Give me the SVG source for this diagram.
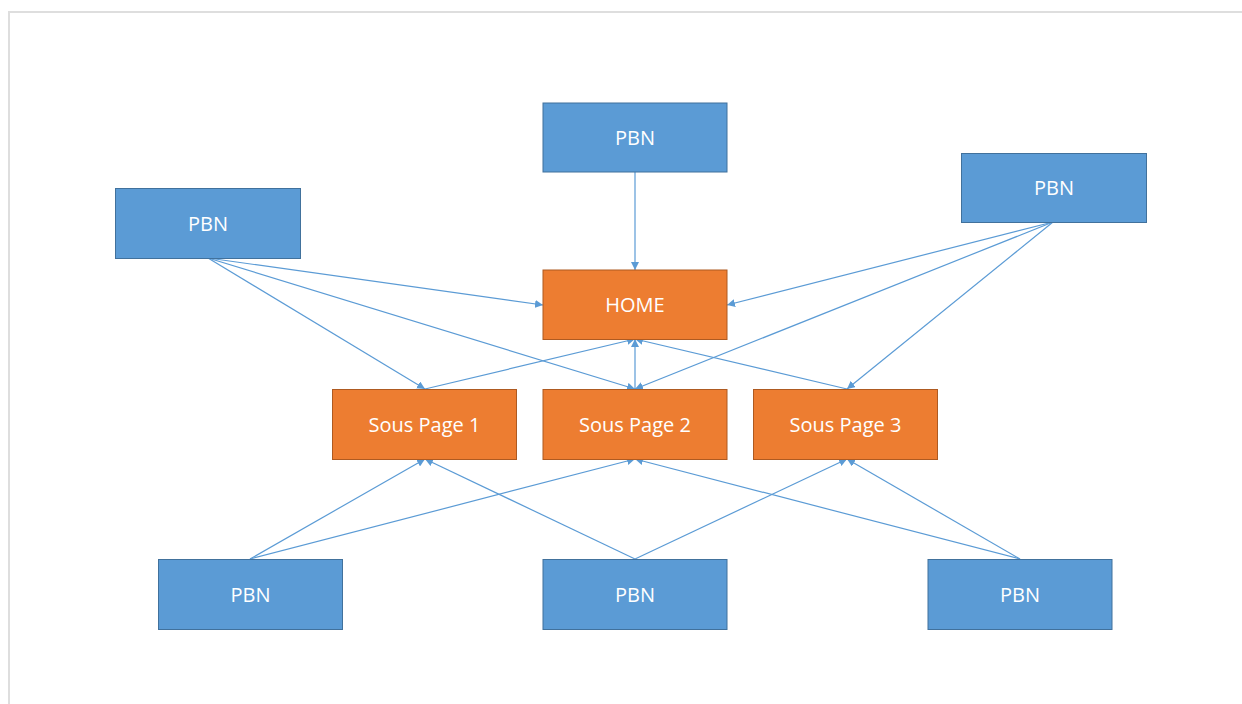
<svg xmlns="http://www.w3.org/2000/svg" width="1242" height="704" viewBox="0 0 1242 704">
<defs>
<marker id="ah" viewBox="0 0 10 10" refX="10" refY="5" markerWidth="8" markerHeight="8" orient="auto" markerUnits="userSpaceOnUse"><path d="M0,0 L10,5 L0,10 z" fill="#5B9BD5"/></marker>
<style>
.pbn{fill:#5B9BD5;stroke:#41719C;stroke-width:1}
.pg{fill:#ED7D31;stroke:#AE5A21;stroke-width:1}
.t{font-family:"Open Sans","Liberation Sans",sans-serif;font-size:20px;fill:#fff;text-anchor:middle;dominant-baseline:central}
.c line{stroke:#5B9BD5;stroke-width:1.2;marker-end:url(#ah)}
</style>
</defs>
<rect width="1242" height="704" fill="#fff"/>
<path d="M9,704 V12 H1242" fill="none" stroke="#dedede" stroke-width="2"/>
<g class="c" id="connectors">
<line x1="635" y1="172" x2="635" y2="270"/>
<line x1="208" y1="258" x2="543" y2="305"/>
<line x1="208" y1="258" x2="425" y2="389"/>
<line x1="208" y1="258" x2="635" y2="389"/>
<line x1="1053" y1="222" x2="727" y2="305"/>
<line x1="1053" y1="222" x2="635" y2="389"/>
<line x1="1053" y1="222" x2="847" y2="389"/>
<line x1="425" y1="389" x2="635" y2="339"/>
<line x1="635" y1="389" x2="635" y2="339"/>
<line x1="847" y1="389" x2="635" y2="339"/>
<line x1="250" y1="559" x2="425" y2="459"/>
<line x1="250" y1="559" x2="635" y2="459"/>
<line x1="635" y1="559" x2="425" y2="459"/>
<line x1="635" y1="559" x2="847" y2="459"/>
<line x1="1020" y1="559" x2="635" y2="459"/>
<line x1="1020" y1="559" x2="847" y2="459"/>
</g>
<g id="pbn-top"><rect class="pbn" x="543" y="103" width="184" height="69"/><text class="t" x="635" y="137">PBN</text></g>
<g id="pbn-left"><rect class="pbn" x="115.5" y="188.5" width="185" height="70"/><text class="t" x="208" y="223">PBN</text></g>
<g id="pbn-right"><rect class="pbn" x="961.5" y="153.5" width="185" height="69"/><text class="t" x="1054" y="187.5">PBN</text></g>
<g id="home"><rect class="pg" x="543" y="270" width="184" height="69.5"/><text class="t" x="635" y="304.5">HOME</text></g>
<g id="sp1"><rect class="pg" x="332.5" y="389.5" width="184" height="70"/><text class="t" x="424.5" y="424">Sous Page 1</text></g>
<g id="sp2"><rect class="pg" x="543" y="389.5" width="184" height="70"/><text class="t" x="635" y="424">Sous Page 2</text></g>
<g id="sp3"><rect class="pg" x="753.5" y="389.5" width="184" height="70"/><text class="t" x="845.5" y="424">Sous Page 3</text></g>
<g id="pbn-bl"><rect class="pbn" x="158.5" y="559.5" width="184" height="70"/><text class="t" x="250.5" y="594">PBN</text></g>
<g id="pbn-bm"><rect class="pbn" x="543" y="559.5" width="184" height="70"/><text class="t" x="635" y="594">PBN</text></g>
<g id="pbn-br"><rect class="pbn" x="928" y="559.5" width="184" height="70"/><text class="t" x="1020" y="594">PBN</text></g>
</svg>
